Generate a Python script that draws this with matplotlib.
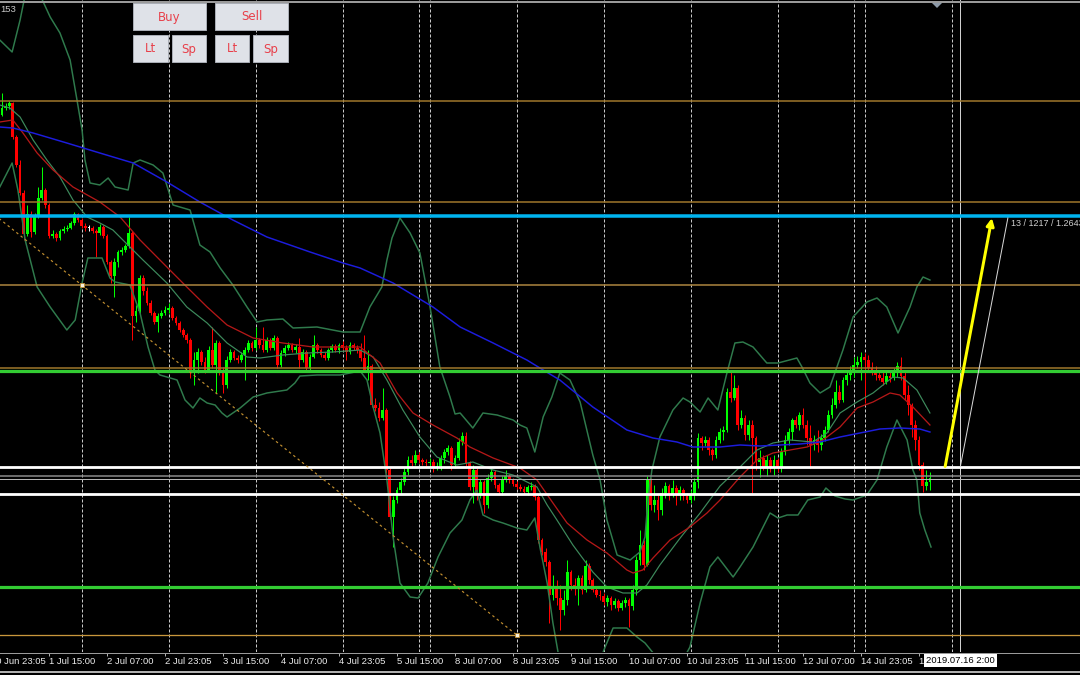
import numpy as np
import matplotlib
matplotlib.use("Agg")
import matplotlib.pyplot as plt
from matplotlib.patches import Rectangle, Polygon
from matplotlib.lines import Line2D
from matplotlib.transforms import blended_transform_factory

plt.rcParams["lines.scale_dashes"] = False

# ---------------------------------------------------------------- data
# H1 bars numbered from 1 Jul 2019 00:00 (weekend hours skipped),
# prices kept as pips above 1.2000
first_bar = 2
first_open = 885

closes = [
    # 1 Jul
    892, 894, 897, 863, 835, 807, 766, 786, 768, 784, 802, 810, 795, 764, 766, 762, 769, 771, 772, 777, 786, 780,
    # 2 Jul
    774, 772, 772, 769, 767, 773, 764, 738, 724, 738, 748, 750, 754, 767, 684, 689, 722, 709, 697, 687, 678, 684, 687, 690,
    # 3 Jul
    692, 682, 677, 670, 665, 660, 628, 640, 648, 638, 630, 650, 635, 657, 630, 615, 640, 648, 642, 640, 645, 650, 657, 652,
    # 4 Jul
    660, 655, 650, 660, 652, 662, 635, 647, 652, 655, 650, 653, 640, 648, 632, 643, 655, 650, 645, 642, 650, 654, 650, 655,
    # 5 Jul
    652, 648, 655, 652, 650, 642, 630, 634, 595, 592, 582, 590, 530, 483, 500, 510, 518, 528, 540, 537, 545,
    # 7 Jul
    540, 538, 537,
    # 8 Jul
    538, 532, 534, 542, 548, 552, 535, 542, 558, 564, 537, 513, 530, 505, 518, 495, 522, 528, 515, 508, 521, 524, 520, 516,
    # 9 Jul
    513, 511, 508, 513, 514, 503, 460, 448, 438, 405, 412, 402, 390, 400, 428, 415, 412, 422, 410, 434, 420, 410, 405, 404,
    # 10 Jul
    398, 402, 395, 399, 392, 397, 400, 394, 410, 440, 455, 435, 520, 495, 500, 490, 507, 514, 505, 512, 505, 510, 504, 500,
    # 11 Jul
    505, 518, 562, 557, 560, 550, 545, 560, 568, 570, 608, 602, 612, 575, 582, 565, 575, 562, 538, 542, 532, 540, 532, 540,
    # 12 Jul
    532, 548, 560, 568, 580, 575, 585, 575, 562, 555, 560, 555, 562, 570, 585, 595, 608, 600, 620, 625, 627,
    # 14 Jul
    635, 638, 643,
    # 15 Jul
    640, 632, 628, 625, 622, 618, 624, 622, 628, 634, 624, 605, 595, 575, 560, 535, 514, 518, 522,
]
highs = [
    907, 897, 899, 898, 865, 840, 810, 795, 789, 787, 813, 833, 812, 797, 770, 768, 771, 774, 775, 779, 788, 787,
    782, 777, 775, 774, 771, 776, 775, 766, 740, 742, 750, 753, 756, 783, 769, 695, 725, 725, 713, 700, 689, 687, 690, 694,
    697, 694, 684, 679, 672, 667, 662, 648, 652, 650, 643, 654, 673, 660, 659, 633, 644, 651, 650, 645, 648, 653, 660, 659,
    673, 662, 673, 663, 662, 665, 664, 650, 655, 658, 657, 656, 662, 651, 650, 646, 665, 657, 652, 648, 652, 656, 656, 657,
    659, 655, 658, 657, 655, 657, 665, 650, 636, 602, 598, 612, 592, 532, 504, 513, 522, 532, 544, 545, 550,
    548, 542, 541,
    542, 541, 538, 545, 551, 555, 554, 545, 562, 568, 568, 539, 535, 532, 521, 520, 526, 532, 530, 517, 524, 530, 526, 522,
    519, 516, 514, 515, 518, 516, 505, 462, 452, 440, 425, 420, 415, 410, 440, 430, 422, 425, 425, 440, 437, 422, 413, 410,
    407, 405, 404, 402, 401, 400, 403, 402, 415, 444, 470, 460, 524, 522, 515, 505, 512, 518, 516, 520, 515, 514, 512, 507,
    510, 522, 567, 564, 564, 563, 552, 564, 572, 574, 612, 628, 625, 615, 590, 585, 580, 580, 564, 550, 545, 545, 543, 545,
    542, 552, 565, 572, 582, 584, 588, 592, 580, 575, 565, 570, 566, 574, 590, 602, 620, 615, 623, 630, 634,
    643, 644, 648,
    647, 645, 638, 634, 630, 628, 628, 630, 632, 638, 643, 628, 615, 597, 580, 564, 538, 530, 528,
]
lows = [
    884, 890, 891, 861, 833, 805, 760, 764, 763, 766, 782, 800, 792, 762, 762, 759, 760, 767, 769, 771, 775, 778,
    772, 769, 769, 767, 743, 765, 762, 736, 717, 703, 733, 745, 748, 752, 660, 678, 686, 705, 695, 685, 676, 668, 682, 685,
    687, 680, 675, 668, 663, 657, 622, 615, 627, 635, 627, 628, 632, 607, 625, 607, 612, 638, 640, 637, 638, 620, 648, 649,
    650, 652, 648, 648, 650, 650, 632, 633, 644, 650, 648, 647, 632, 638, 630, 630, 642, 647, 643, 640, 640, 648, 648, 647,
    650, 640, 646, 650, 647, 639, 628, 620, 593, 589, 579, 580, 527, 481, 453, 497, 506, 515, 525, 534, 535,
    537, 535, 534,
    534, 528, 530, 530, 537, 545, 530, 532, 540, 555, 534, 510, 497, 500, 502, 487, 492, 519, 512, 505, 505, 518, 517, 514,
    511, 509, 506, 505, 510, 500, 457, 445, 434, 377, 400, 395, 370, 385, 395, 410, 405, 395, 406, 408, 416, 408, 403, 400,
    395, 394, 390, 392, 389, 390, 393, 373, 390, 405, 435, 430, 434, 490, 488, 480, 485, 502, 500, 503, 495, 500, 500, 497,
    497, 500, 512, 550, 554, 545, 540, 542, 557, 560, 568, 598, 600, 570, 572, 560, 560, 507, 530, 523, 530, 524, 528, 525,
    528, 528, 545, 555, 560, 572, 570, 572, 555, 532, 550, 548, 550, 559, 568, 582, 592, 597, 598, 615, 620,
    623, 632, 620,
    597, 630, 625, 620, 620, 615, 616, 618, 620, 623, 620, 600, 585, 563, 550, 530, 508, 510, 510,
]

# Bollinger bands (upper / middle / lower)
bb_up_x = [1.4, 4.8, 7.0, 8.4, 12.5, 15.3, 18.0, 20.8, 22.7, 24.1, 24.9, 26.3, 29.0, 31.3, 33.2, 36.8, 38.2, 40.1,
           43.7, 46.4, 49.2, 53.9, 56.6, 59.4, 62.2, 65.7, 69.6, 72.4, 75.1, 79.5, 82.3, 88.9, 96.1, 100.8, 103.5,
           106.8, 108.2, 109.6, 111.8, 114.6, 117.3, 120.1, 122.8, 125.6, 127.0, 128.4, 131.9, 134.7, 138.6, 143.0,
           144.9, 146.8, 149.0, 151.3, 153.7, 155.9, 158.7, 161.5, 165.0, 167.0, 168.9, 171.7, 175.3, 178.0, 179.4,
           180.2, 181.3, 183.5, 187.1, 189.9, 191.8, 194.6, 196.8, 199.5, 202.0, 204.2, 206.4, 209.2, 213.0, 216.1,
           221.3, 222.7, 224.9, 227.7, 230.4, 234.0, 236.8, 240.6, 243.4, 246.1, 249.2, 252.5, 254.4, 256.1, 258.0]
bb_up_y = [960, 948, 980, 1005, 1005, 983, 967, 940, 900, 870, 840, 817, 815, 822, 813, 810, 837, 840,
           835, 827, 795, 790, 755, 748, 732, 715, 693, 678, 680, 681, 672, 673, 668, 668, 693,
           713, 740, 762, 782, 767, 747, 693, 633, 603, 586, 587, 572, 587, 585, 580,
           575, 572, 548, 583, 603, 627, 620, 598, 545, 520, 480, 445, 440, 448, 463,
           500, 530, 563, 590, 602, 598, 588, 602, 590, 627, 657, 658, 653, 637, 637,
           642, 633, 617, 607, 613, 650, 683, 698, 702, 693, 667, 693, 713, 723, 720]
bb_mid_x = [1.4, 4.2, 7.0, 10.6, 14.4, 18.0, 21.6, 25.5, 29.0, 32.6, 37.3, 40.9, 47.5, 53.0, 58.6, 64.1, 69.6,
            73.2, 79.5, 86.2, 93.3, 100.8, 104.4, 108.2, 112.6, 117.3, 122.0, 127.5, 131.9, 137.5, 143.0, 149.6,
            152.4, 155.1, 159.5, 165.0, 168.9, 173.3, 177.2, 179.9, 183.5, 189.1, 194.6, 200.1, 205.6, 210.3,
            214.7, 219.4, 225.7, 229.6, 233.2, 237.9, 242.3, 247.8, 250.6, 254.4, 258.0]
bb_mid_y = [895, 892, 883, 860, 840, 823, 800, 783, 777, 770, 753, 740, 717, 693, 677, 657, 643,
            642, 645, 647, 648, 650, 643, 620, 590, 563, 543, 535, 538, 530, 525, 513,
            495, 480, 455, 428, 413, 407, 407, 415, 435, 462, 487, 514, 533, 550,
            557, 560, 558, 567, 587, 598, 607, 623, 622, 610, 587]
bb_low_x = [1.4, 4.8, 6.4, 8.4, 11.7, 15.3, 19.9, 22.2, 24.1, 25.7, 29.6, 31.8, 33.2, 37.3, 40.1, 42.3, 44.2,
            45.6, 47.5, 50.3, 52.5, 54.7, 56.6, 58.6, 60.8, 62.7, 64.1, 67.7, 71.3, 75.1, 80.6, 82.8, 84.2, 88.9,
            95.3, 100.8, 102.7, 104.4, 106.3, 108.2, 109.9, 111.8, 114.6, 116.8, 119.5, 122.3, 125.6, 128.9, 131.1,
            133.0, 134.7, 137.5, 140.2, 144.1, 146.8, 149.0, 150.4, 152.4, 154.0, 155.4, 157.3, 164.2, 167.0, 168.4,
            170.6, 174.4, 177.2, 179.4, 182.1, 186.3, 189.1, 191.8, 194.6, 197.3, 199.5, 203.7, 205.6, 209.2, 213.9,
            216.1, 218.6, 221.6, 224.3, 227.7, 229.3, 231.8, 234.6, 236.8, 240.6, 243.4, 246.1, 248.9, 251.7, 253.3,
            254.4, 255.2, 256.6, 258.3]
bb_low_y = [813, 837, 810, 760, 713, 693, 670, 680, 717, 742, 742, 722, 718, 715, 687, 653, 630,
            625, 623, 620, 600, 592, 602, 597, 595, 587, 583, 592, 603, 607, 610, 617, 624, 625,
            625, 629, 620, 593, 567, 520, 463, 417, 403, 402, 417, 443, 467, 480, 500,
            510, 485, 480, 477, 472, 470, 482, 453, 417, 377, 348, 310, 310, 340, 353,
            372, 372, 363, 357, 345, 330, 335, 353, 397, 433, 443, 423, 433, 453, 487,
            482, 485, 485, 500, 503, 512, 504, 501, 500, 505, 520, 553, 580, 560, 530,
            520, 487, 470, 453]

# moving averages
ma_red_x = [1.4, 5.0, 7.8, 11.7, 16.1, 21.6, 29.0, 34.6, 40.1, 47.5, 53.0, 58.6, 64.1, 71.3, 79.5, 87.8, 95.3,
            100.8, 106.3, 111.0, 115.4, 120.9, 127.5, 131.1, 137.5, 144.9, 149.6, 154.0, 157.9, 163.4, 168.9,
            174.4, 176.1, 178.8, 181.6, 186.3, 191.8, 196.5, 200.1, 205.6, 210.3, 214.7, 219.4, 224.1, 228.5,
            233.2, 237.9, 242.3, 247.0, 249.7, 253.3, 258.0]
ma_red_y = [878, 880, 867, 847, 830, 813, 798, 783, 760, 733, 713, 693, 675, 662, 657, 653, 653,
            653, 637, 607, 587, 575, 562, 553, 542, 532, 520, 497, 477, 460, 447,
            430, 427, 430, 442, 460, 473, 487, 500, 523, 540, 547, 550, 553, 560,
            573, 592, 598, 607, 605, 593, 575]
ma_blue_x = [1.4, 5.0, 10.6, 19.9, 29.0, 38.2, 47.5, 56.6, 65.7, 75.1, 87.0, 96.1, 100.8, 109.9, 120.9, 128.4,
             137.5, 146.8, 151.3, 155.9, 165.0, 174.4, 181.6, 188.2, 192.6, 200.1, 205.6, 211.1, 216.6, 222.1,
             227.7, 233.2, 238.7, 244.2, 249.7, 255.2, 258.0]
ma_blue_y = [873, 872, 867, 857, 847, 837, 818, 798, 780, 763, 748, 737, 732, 717, 693, 673,
             657, 640, 630, 620, 593, 570, 562, 558, 553, 553, 555, 554, 555, 556,
             558, 563, 567, 571, 572, 571, 568]

# horizontal levels (pips above 1.2000)
levels = [899, 798, 784, 715, 632, 629.5, 533.5, 524.5, 521, 506.5, 413, 365]
level_colors = ["#a37a2c", "#a37a2c", "#00b4f0", "#b08940", "#a37a2c", "#33cc33",
                "#ffffff", "#8c8c8c", "#b4b4b4", "#ffffff", "#33cc33", "#c8963c"]
level_px = [1.5, 1.5, 3.5, 1.5, 1.5, 3.2, 2.8, 1.5, 1, 2.8, 3.2, 1.3]

# period separators and time scale
day_breaks = [24, 48, 72, 96, 117, 120, 144, 168, 192, 216, 237, 240, 264]
tick_bars = [-1, 15, 31, 47, 63, 79, 95, 111, 127, 143, 159, 175, 191, 207, 223, 239, 255]
tick_labels = ["30 Jun 23:05", "1 Jul 15:00", "2 Jul 07:00", "2 Jul 23:05", "3 Jul 15:00", "4 Jul 07:00",
               "4 Jul 23:05", "5 Jul 15:00", "8 Jul 07:00", "8 Jul 23:05", "9 Jul 15:00", "10 Jul 07:00",
               "10 Jul 23:05", "11 Jul 15:00", "12 Jul 07:00", "14 Jul 23:05", "15 Jul 15:00"]

# drawn objects
trend_x = [24, 144]
trend_y = [715, 365]
arrow_x = [262.2, 275.1]
arrow_y = [533.5, 782]
ray_x = [266.4, 279.5]
ray_y = [533.5, 782]
ray_text = "13 / 1217 / 1.2643"
cursor_bar = 266.4
cursor_text = "2019.07.16 2:00"


def price(p):
    return 1.2 + np.asarray(p, dtype=float) / 1e4


W, H = 1080, 675
fig = plt.figure(figsize=(W / 100, H / 100), dpi=100, facecolor="black")


def fx(px):
    return px / W


def fy(py):
    return 1 - py / H


def lw(px):
    return px * 0.72


small_font = ["Liberation Sans Narrow", "Liberation Sans"]

ax = fig.add_axes([0, fy(652), 1, 652 / H])
ax.set_facecolor("black")
ax.set_xlim(1.46, 299.4)
ax.set_ylim(price(348), price(1000))
ax.axis("off")

# separators
for b in day_breaks:
    ax.axvline(b, color="#c8c8c8", lw=lw(1), dashes=(2.2, 1.4), zorder=1)
ax.axvline(cursor_bar, color="#d0d0d0", lw=lw(1), zorder=1)

# candles
c = np.array(closes, dtype=float)
o = np.r_[first_open, c[:-1]]
x = np.arange(first_bar, first_bar + len(c))
col = np.where(c > o, "#00ff00", np.where(c < o, "#ff0000", "#ffffff"))
ax.vlines(x, price(lows), price(highs), colors=col, lw=lw(1), zorder=2)
body = np.maximum(np.abs(c - o), 1.0)
ax.bar(x, body / 1e4, bottom=price(np.minimum(o, c)), width=0.74, color=col, lw=0, zorder=2)

# indicators
ax.plot(bb_up_x, price(bb_up_y), color="#2f7a4c", lw=lw(1.5), zorder=3)
ax.plot(bb_low_x, price(bb_low_y), color="#2f7a4c", lw=lw(1.5), zorder=3)
ax.plot(bb_mid_x, price(bb_mid_y), color="#3d8a5c", lw=lw(1.2), zorder=3)
ax.plot(ma_red_x, price(ma_red_y), color="#b41818", lw=lw(1.3), zorder=3)
ax.plot(ma_blue_x, price(ma_blue_y), color="#1c1cdc", lw=lw(1.5), zorder=3)

# horizontal levels
for v, cc, w in zip(levels, level_colors, level_px):
    ax.axhline(price(v), color=cc, lw=lw(w), zorder=4)

# dotted trend line, extended to the left edge
slope = (trend_y[1] - trend_y[0]) / (trend_x[1] - trend_x[0])
x0 = 0
ax.plot([x0, trend_x[1]], price([trend_y[0] + slope * (x0 - trend_x[0]), trend_y[1]]),
        color="#c08e30", lw=lw(1.2), dashes=(1.8, 2.2), zorder=4)
ax.plot(trend_x, price(trend_y), ls="none", marker="s", ms=3, mfc="#f5f0e0", mec="#c08e30",
        mew=0.6, zorder=5)

# arrow and ray
ax.annotate("", xy=(arrow_x[1], price(arrow_y[1])), xytext=(arrow_x[0], price(arrow_y[0])),
            arrowprops=dict(arrowstyle="-|>", color="#ffff00", lw=lw(3), mutation_scale=11,
                            shrinkA=0, shrinkB=0), zorder=6)
ax.plot(ray_x, price(ray_y), color="#d8d8d8", lw=lw(1), zorder=5)
ax.text(ray_x[1] + 1.0, price(ray_y[1]) - 0.0006, ray_text, color="#cfcfcf", fontsize=6.5,
        family=small_font, va="center", ha="left", zorder=6)

# time scale
trans = blended_transform_factory(ax.transData, fig.transFigure)
fig.add_artist(Line2D([0, 1], [fy(652.5), fy(652.5)], color="#9a9a9a", lw=lw(1)))
fig.add_artist(Line2D([0, 1], [fy(671.5), fy(671.5)], color="#b0b0b0", lw=lw(2)))
ax.vlines(tick_bars, fy(656), fy(652.5), transform=trans, colors="#b0b0b0", lw=lw(1), clip_on=False)
for b, t in zip(tick_bars, tick_labels):
    ax.text(b, fy(661), t, transform=trans, ha="left", va="center", fontsize=6.8, color="#ececec",
            family=small_font, clip_on=False)
ax.text(cursor_bar, fy(660.5), cursor_text, transform=trans, ha="center", va="center", fontsize=6.8,
        color="black", family=small_font, clip_on=False, zorder=10,
        bbox=dict(boxstyle="square,pad=0.2", fc="white", ec="none"))

# window frame, shift marker, price fragment
fig.add_artist(Line2D([0, 1], [fy(2), fy(2)], color="#9a9a9a", lw=lw(2)))
fig.add_artist(Polygon([(fx(932), fy(3)), (fx(942), fy(3)), (fx(937), fy(8))], closed=True,
                       transform=fig.transFigure, fc="#8d9aa8", ec="none"))
fig.text(fx(0), fy(10), "153", color="#c8c8c8", fontsize=6.8, ha="left", va="center", family=small_font)

# trade panel buttons
buttons = [("Buy", 133, 3, 206, 30), ("Sell", 215, 3, 288, 30),
           ("Lt", 133, 35, 168, 62), ("Sp", 172, 35, 206, 62),
           ("Lt", 215, 35, 249, 62), ("Sp", 253, 35, 288, 62)]
for label, x1, y1, x2, y2 in buttons:
    fig.add_artist(Rectangle((fx(x1), fy(y2)), fx(x2 - x1), (y2 - y1) / H, transform=fig.transFigure,
                             fc="#dfe2e8", ec="#a9adb5", lw=lw(1), zorder=20))
    fig.text(fx((x1 + x2) / 2), fy((y1 + y2) / 2 + 0.5), label, color="#e8404a", fontsize=8.5,
             ha="center", va="center", zorder=21, family="DejaVu Sans")

fig.savefig("out.png", dpi=100, facecolor="black")
